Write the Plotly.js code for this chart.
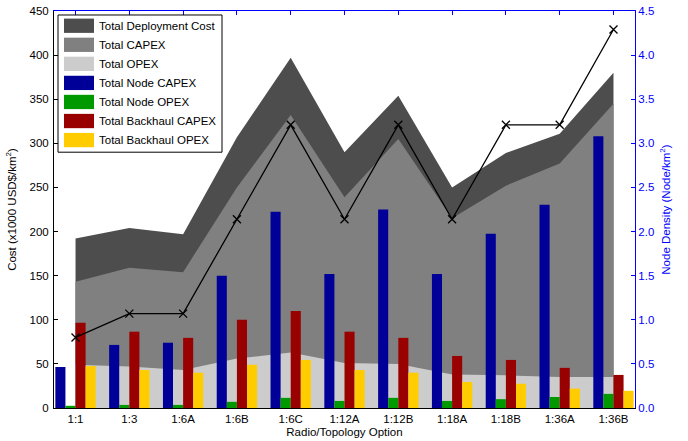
<!DOCTYPE html>
<html>
<head>
<meta charset="utf-8">
<script src="https://cdn.plot.ly/plotly-3.0.1.min.js"></script>
<style>html,body{margin:0;padding:0;background:#fff}#chart{width:688px;height:441px}</style>
</head>
<body>
<div id="chart"></div>
<script>
var categories = ['1:1','1:3','1:6A','1:6B','1:6C','1:12A','1:12B','1:18A','1:18B','1:36A','1:36B'];
var totalDeployment = [192, 204, 197, 307, 397, 290, 354, 250, 289, 311, 380];
var totalCapex = [143, 159, 154, 250, 332, 239, 305, 215, 252, 277, 345];
var totalOpex = [49, 47, 43, 56, 63, 51, 50, 38, 37, 35, 35];
var nodeCapex = [46.5, 71.5, 74, 150, 222.5, 152, 225, 152, 197.5, 230.5, 308];
var nodeOpex = [2.5, 3.5, 3.5, 7, 11.5, 8, 11.5, 8, 10, 12.5, 16];
var backhaulCapex = [96.5, 86.5, 79.5, 100, 110, 86.5, 79.5, 59, 54.5, 45.5, 37.5];
var backhaulOpex = [47.5, 43, 40, 49, 54.5, 43, 40, 29.5, 27.5, 22, 19.5];
var nodeDensity = [0.80, 1.07, 1.07, 2.14, 3.21, 2.14, 3.21, 2.14, 3.21, 3.21, 4.29];
var seriesNames = ['Total Deployment Cost','Total CAPEX','Total OPEX','Total Node CAPEX','Total Node OPEX','Total Backhaul CAPEX','Total Backhaul OPEX'];
var seriesColors = ['#4d4d4d','#808080','#cccccc','#000099','#009900','#990000','#ffcc00'];

var FONT = 'Liberation Sans, Arial, Helvetica, sans-serif';
var FS = 11.5;
var xr = [-0.4, 10.4];

function area(y, i) {
  return {x: categories, y: y, type: 'scatter', mode: 'none', fill: 'tozeroy',
    fillcolor: seriesColors[i], name: seriesNames[i], xaxis: 'x', yaxis: 'y',
    showlegend: false, hoverinfo: 'skip'};
}
function bar(y, i) {
  return {x: categories, y: y, type: 'bar', marker: {color: seriesColors[i], line: {width: 0}},
    name: seriesNames[i], xaxis: 'x', yaxis: 'y2', showlegend: false};
}
var traces = [
  area(totalDeployment, 0), area(totalCapex, 1), area(totalOpex, 2),
  bar(nodeCapex, 3), bar(nodeOpex, 4), bar(backhaulCapex, 5), bar(backhaulOpex, 6),
  {x: categories, y: nodeDensity, type: 'scatter', mode: 'lines+markers',
   line: {color: '#000', width: 1.3},
   marker: {symbol: 'x-thin', size: 8, color: '#000', line: {color: '#000', width: 1.3}},
   xaxis: 'x2', yaxis: 'y3', showlegend: false, name: 'Node Density'}
];

// manual legend (pixel geometry -> paper coords)
var PL = 54, PR = 635, PT = 10.7, PB = 408;
function px(x) { return (x - PL) / (PR - PL); }
function py(y) { return (PB - y) / (PB - PT); }
var shapes = [{type: 'rect', xref: 'paper', yref: 'paper', x0: px(58), x1: px(222), y0: py(152), y1: py(14.7),
  fillcolor: '#fff', line: {color: '#000', width: 1}, layer: 'above'}];
var annotations = [];
for (var i = 0; i < seriesNames.length; i++) {
  var rowTop = 18.3 + 19.07 * i;
  shapes.push({type: 'rect', xref: 'paper', yref: 'paper', x0: px(64), x1: px(94), y0: py(rowTop + 14.3), y1: py(rowTop),
    fillcolor: seriesColors[i], line: {width: 0}, layer: 'above'});
  annotations.push({xref: 'paper', yref: 'paper', x: px(96.5), y: py(rowTop + 7.3), xanchor: 'left', yanchor: 'middle',
    text: seriesNames[i], showarrow: false, font: {family: FONT, size: FS, color: '#000'}});
}

var layout = {
  width: 688, height: 441,
  margin: {l: PL, r: 688 - PR, t: PT, b: 441 - PB, pad: 0},
  paper_bgcolor: '#fff', plot_bgcolor: '#fff',
  font: {family: FONT, size: FS, color: '#000'},
  barmode: 'group', bargap: 0.25, bargroupgap: 0,
  showlegend: false,
  xaxis: {type: 'category', range: xr, showline: true, linecolor: '#000', linewidth: 1,
    ticks: '', showgrid: false, zeroline: false, tickfont: {family: FONT, size: FS, color: '#000'},
    title: {text: 'Radio/Topology Option', font: {family: FONT, size: FS, color: '#000'}, standoff: 4}},
  xaxis2: {type: 'category', range: xr, overlaying: 'x', side: 'top', anchor: 'y3', showline: true,
    linecolor: '#0000ff', linewidth: 1, ticks: 'inside', ticklen: 4, tickcolor: '#0000ff',
    showticklabels: false, showgrid: false, zeroline: false},
  yaxis: {range: [0, 450], dtick: 50, showline: true, linecolor: '#000', linewidth: 1,
    ticks: 'inside', ticklen: 4, tickcolor: '#000', showgrid: false, zeroline: false,
    ticklabelstandoff: 2,
    tickfont: {family: FONT, size: FS, color: '#000'},
    title: {text: 'Cost (x1000 USD$/km<sup>2</sup>)', font: {family: FONT, size: FS, color: '#000'}, standoff: 10}},
  yaxis2: {range: [0, 450], overlaying: 'y', visible: false, showgrid: false, zeroline: false},
  yaxis3: {range: [0, 4.5], dtick: 0.5, tickformat: '.1f', overlaying: 'y', side: 'right', anchor: 'x2',
    showline: true, linecolor: '#0000ff', linewidth: 1, ticks: 'inside', ticklen: 4, tickcolor: '#0000ff',
    showgrid: false, zeroline: false, tickfont: {family: FONT, size: FS, color: '#0000ff'},
    title: {text: 'Node Density (Node/km<sup>2</sup>)', font: {family: FONT, size: FS, color: '#0000ff'}, standoff: 8}},
  shapes: shapes,
  annotations: annotations
};

Plotly.newPlot('chart', traces, layout, {staticPlot: true, displayModeBar: false});
</script>
</body>
</html>
